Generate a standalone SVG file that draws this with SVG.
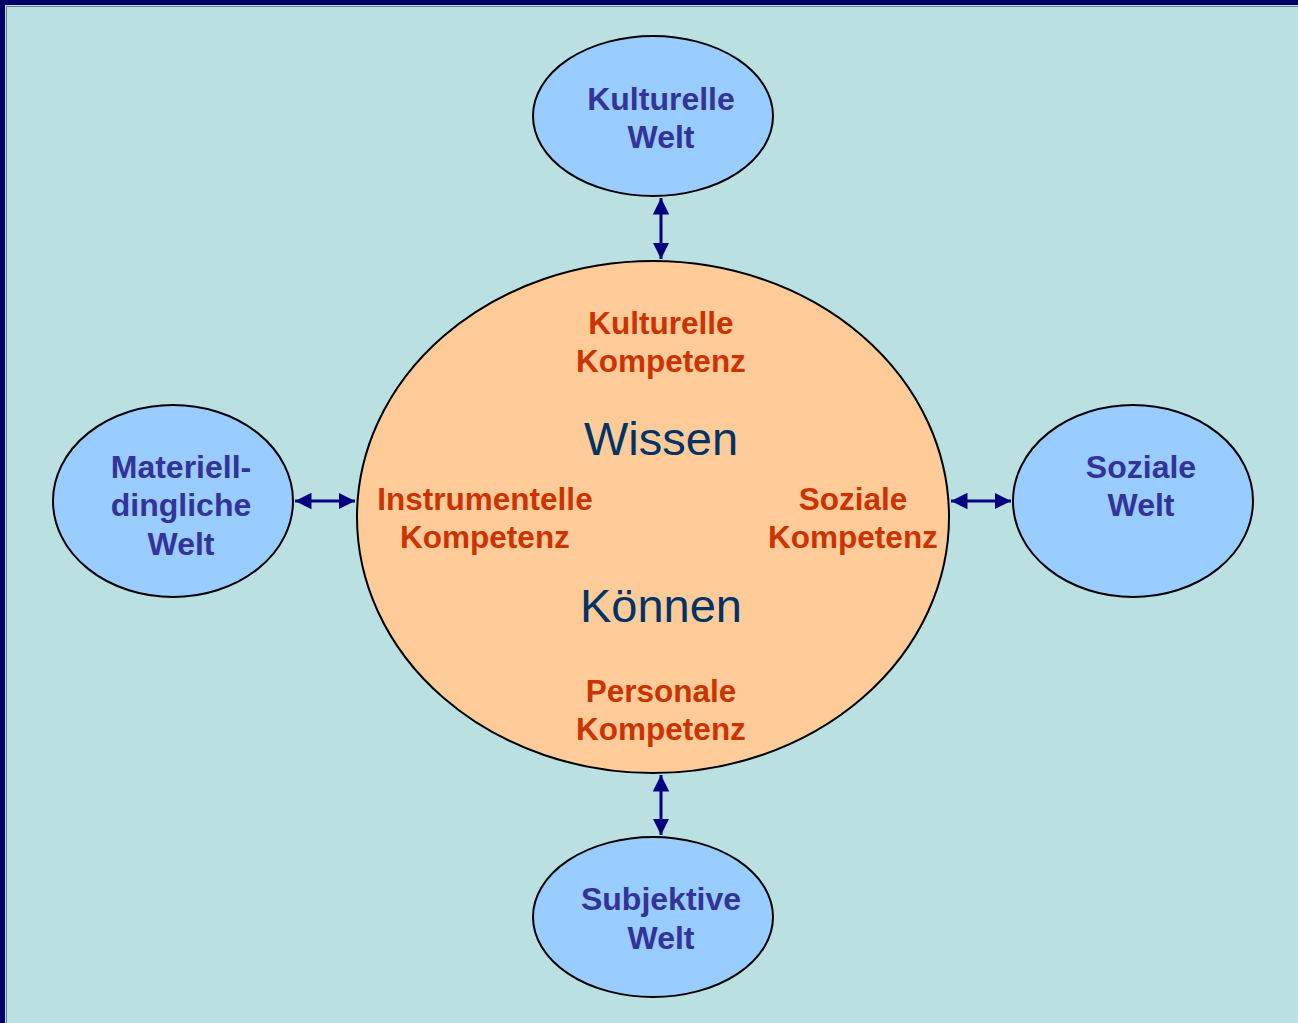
<svg xmlns="http://www.w3.org/2000/svg" width="1298" height="1023" viewBox="0 0 1298 1023">
<style>
.world{fill:#99CCFF;stroke:#000;stroke-width:2}
.core{fill:#FFCC99;stroke:#000;stroke-width:2}
.wl{font-family:"Liberation Sans",Arial,sans-serif;font-weight:bold;font-size:32px;fill:#333399;text-anchor:middle}
.kl{font-family:"Liberation Sans",Arial,sans-serif;font-weight:bold;font-size:31.5px;fill:#CC3300;text-anchor:middle}
.big{font-family:"Liberation Sans",Arial,sans-serif;font-size:47px;fill:#003366;text-anchor:middle}
.conn{stroke:#000080;stroke-width:3;fill:none;marker-start:url(#ah);marker-end:url(#ah)}
</style>
<defs>
<marker id="ah" viewBox="0 0 10 10" refX="10" refY="5" markerWidth="5.5" markerHeight="5.5" orient="auto-start-reverse" markerUnits="strokeWidth">
<path d="M0,0 L10,5 L0,10 z" fill="#000080"/>
</marker>
</defs>
<rect x="0" y="0" width="1298" height="1023" fill="#BAE0E2"/>
<rect x="0" y="0" width="1298" height="5" fill="#000066"/>
<rect x="0" y="0" width="5" height="1023" fill="#000066"/>
<path d="M6.5,1023 V6.5 H1298" stroke="#708080" stroke-width="1" fill="none"/>
<g id="connectors">
<line class="conn" x1="661" y1="198" x2="661" y2="259"/>
<line class="conn" x1="295" y1="501" x2="355" y2="501"/>
<line class="conn" x1="951" y1="501" x2="1011" y2="501"/>
<line class="conn" x1="661" y1="775" x2="661" y2="835"/>
</g>
<g id="core">
<ellipse class="core" cx="653" cy="517" rx="296" ry="256"/>
<text class="kl" x="661" y="334">Kulturelle</text>
<text class="kl" x="661" y="372">Kompetenz</text>
<text class="big" x="661" y="455">Wissen</text>
<text class="kl" x="485" y="510">Instrumentelle</text>
<text class="kl" x="485" y="548">Kompetenz</text>
<text class="kl" x="853" y="510">Soziale</text>
<text class="kl" x="853" y="548">Kompetenz</text>
<text class="big" x="661" y="622">Können</text>
<text class="kl" x="661" y="702">Personale</text>
<text class="kl" x="661" y="740">Kompetenz</text>
</g>
<g id="kulturelle-welt">
<ellipse class="world" cx="653" cy="116" rx="120" ry="80"/>
<text class="wl" x="661" y="110">Kulturelle</text>
<text class="wl" x="661" y="148">Welt</text>
</g>
<g id="materiell-dingliche-welt">
<ellipse class="world" cx="173" cy="501" rx="120" ry="96"/>
<text class="wl" x="181" y="478">Materiell-</text>
<text class="wl" x="181" y="516">dingliche</text>
<text class="wl" x="181" y="555">Welt</text>
</g>
<g id="soziale-welt">
<ellipse class="world" cx="1133" cy="501" rx="120" ry="96"/>
<text class="wl" x="1141" y="478">Soziale</text>
<text class="wl" x="1141" y="516">Welt</text>
</g>
<g id="subjektive-welt">
<ellipse class="world" cx="653" cy="917" rx="120" ry="80"/>
<text class="wl" x="661" y="910">Subjektive</text>
<text class="wl" x="661" y="949">Welt</text>
</g>
</svg>
